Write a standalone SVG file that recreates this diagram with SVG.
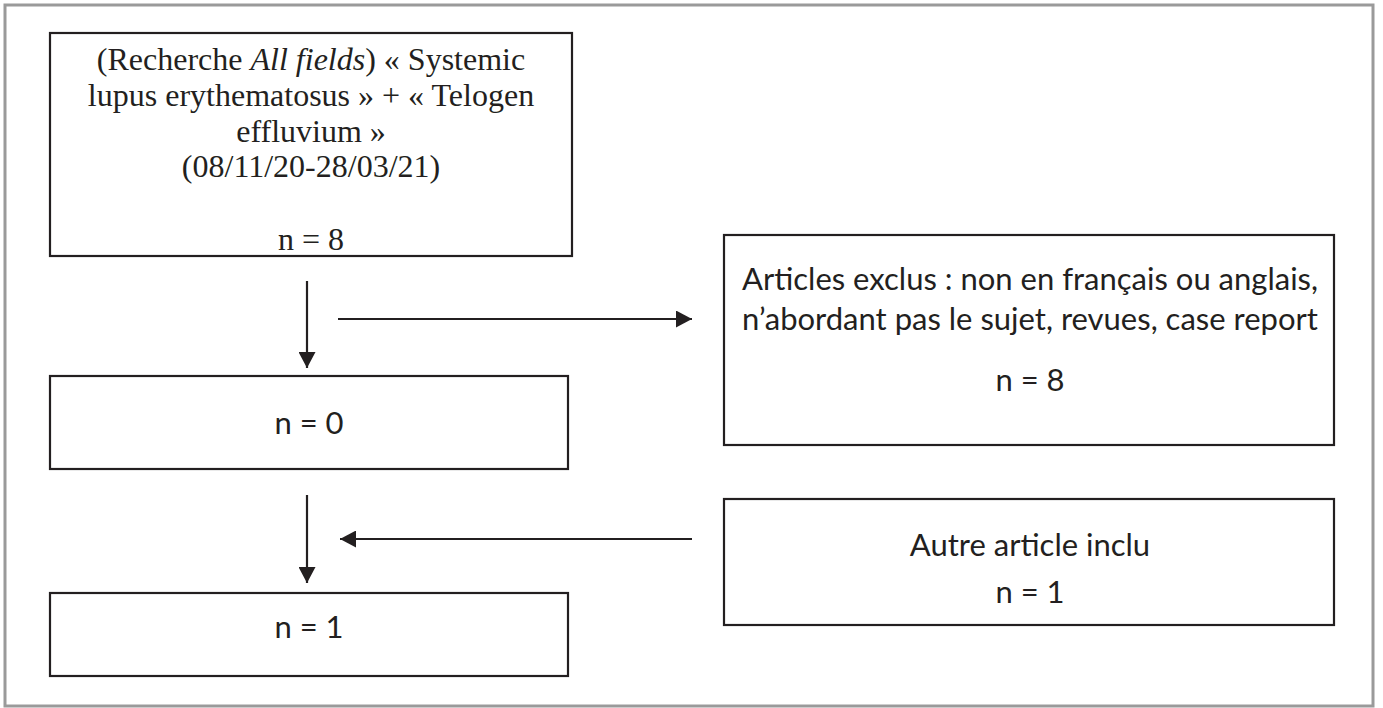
<svg xmlns="http://www.w3.org/2000/svg" width="1383" height="708" viewBox="0 0 1383 708">
<style>
.frame{fill:#ffffff;stroke:#9a9a9a;stroke-width:3}
.box{fill:#ffffff;stroke:#231f20;stroke-width:2.2}
.serif{font-family:"Liberation Serif","Times New Roman",serif;font-size:32px;fill:#231f20;text-anchor:middle}
.sans{font-family:Lato,"Liberation Sans",sans-serif;font-size:31px;fill:#231f20;text-anchor:middle}
.conn{stroke:#231f20;stroke-width:2.2;fill:none}
</style>
<defs>
<marker id="ah" markerUnits="userSpaceOnUse" markerWidth="17" markerHeight="17" refX="16" refY="8.5" orient="auto">
<path d="M0,0 L16,8.5 L0,17 z" fill="#231f20"/>
</marker>
</defs>
<rect class="frame" x="5" y="5" width="1368" height="701"/>
<g id="search">
<rect class="box" x="50" y="33" width="522" height="223"/>
<text class="serif" x="311" y="70">(Recherche <tspan font-style="italic">All fields</tspan>) « Systemic</text>
<text class="serif" x="311" y="106">lupus erythematosus » + « Telogen</text>
<text class="serif" x="311" y="142">effluvium »</text>
<text class="serif" x="311" y="177">(08/11/20-28/03/21)</text>
<text class="serif" x="311" y="250">n = 8</text>
</g>
<g id="n0">
<rect class="box" x="50" y="376" width="518" height="93"/>
<text class="sans" x="309" y="434">n = 0</text>
</g>
<g id="n1">
<rect class="box" x="50" y="593" width="518" height="83"/>
<text class="sans" x="309" y="638">n = 1</text>
</g>
<g id="excluded">
<rect class="box" x="724" y="235" width="610" height="210"/>
<text class="sans" x="1030" y="290">Articles exclus : non en français ou anglais,</text>
<text class="sans" x="1030" y="330">n’abordant pas le sujet, revues, case report</text>
<text class="sans" x="1030" y="391">n = 8</text>
</g>
<g id="included">
<rect class="box" x="724" y="499" width="610" height="126"/>
<text class="sans" x="1030" y="556">Autre article inclu</text>
<text class="sans" x="1030" y="603">n = 1</text>
</g>
<g id="connectors">
<line class="conn" x1="307" y1="281" x2="307" y2="368" marker-end="url(#ah)"/>
<line class="conn" x1="338" y1="319" x2="692" y2="319" marker-end="url(#ah)"/>
<line class="conn" x1="307" y1="495" x2="307" y2="583" marker-end="url(#ah)"/>
<line class="conn" x1="692" y1="539" x2="340" y2="539" marker-end="url(#ah)"/>
</g>
</svg>
